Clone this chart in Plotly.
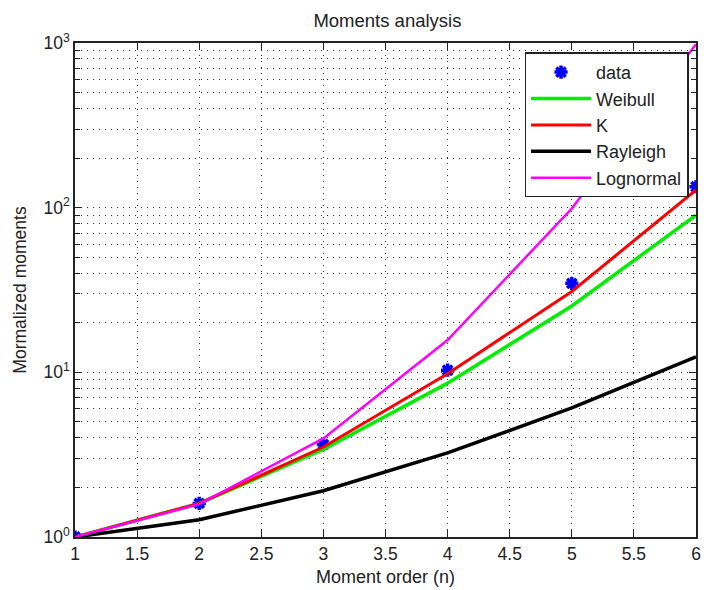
import plotly.graph_objects as go

# Moment orders
orders = [1, 2, 3, 4, 5, 6]

# Normalized moments: measured data and fitted models
data_moments = [1.0, 1.60, 3.65, 10.3, 34.7, 134.0]
weibull = [1.0, 1.60, 3.40, 8.6, 25.3, 90.0]
k_dist = [1.0, 1.60, 3.52, 9.8, 31.0, 128.0]
rayleigh = [1.0, 1.273, 1.91, 3.24, 6.08, 12.4]
lognormal = [1.0, 1.583, 3.97, 15.7, 98.8, 982.0]

x_ticks = [1, 1.5, 2, 2.5, 3, 3.5, 4, 4.5, 5, 5.5, 6]
y_ticks = [1, 10, 100, 1000]
y_tick_text = ["10<sup>0</sup>", "10<sup>1</sup>", "10<sup>2</sup>", "10<sup>3</sup>"]
y_minor = [m * 10 ** d for d in range(3) for m in range(2, 10)]

FONT = "Liberation Sans, Arial, sans-serif"
GRID_DASH = "1px,5px"

fig = go.Figure()
fig.add_trace(go.Scatter(
    x=orders, y=data_moments, mode="markers", name="data",
    marker=dict(symbol="asterisk-open", size=11, color="#0000ff",
                line=dict(color="#0000ff", width=3.5)),
))
fig.add_trace(go.Scatter(x=orders, y=weibull, mode="lines", name="Weibull",
                         line=dict(color="#00ee00", width=3.5)))
fig.add_trace(go.Scatter(x=orders, y=k_dist, mode="lines", name="K",
                         line=dict(color="#ff0000", width=3)))
fig.add_trace(go.Scatter(x=orders, y=rayleigh, mode="lines", name="Rayleigh",
                         line=dict(color="#000000", width=3.5)))
fig.add_trace(go.Scatter(x=orders, y=lognormal, mode="lines", name="Lognormal",
                         line=dict(color="#ff00ff", width=2.5)))

fig.update_layout(
    width=707, height=590,
    margin=dict(l=75, r=6, t=43, b=53),
    paper_bgcolor="white", plot_bgcolor="white",
    font=dict(family=FONT, size=17, color="#222"),
    title=dict(text="Moments analysis", x=0.548, xanchor="center",
               y=1 - 21 / 590, yanchor="middle", font=dict(size=18.5)),
    showlegend=True,
    legend=dict(
        x=0.988, y=0.981, xanchor="right", yanchor="top",
        bgcolor="white", bordercolor="#222", borderwidth=1.5,
        font=dict(size=18), itemwidth=60, tracegroupgap=2,
    ),
)

fig.update_xaxes(
    range=[1, 6], tickvals=x_ticks, ticktext=[f"{v:g}" for v in x_ticks],
    showline=True, linecolor="#222", linewidth=1.5, mirror="allticks",
    ticks="inside", ticklen=7, tickcolor="#222",
    showgrid=True, gridcolor="#333", gridwidth=1, griddash=GRID_DASH,
    zeroline=False, tickfont=dict(size=17.5),
    title=dict(text="Moment order (n)", standoff=8, font=dict(size=18)),
)
fig.update_yaxes(
    type="log", range=[0, 3], tickvals=y_ticks, ticktext=y_tick_text,
    showline=True, linecolor="#222", linewidth=1.5, mirror="allticks",
    ticks="inside", ticklen=7, tickcolor="#222",
    showgrid=True, gridcolor="#333", gridwidth=1, griddash=GRID_DASH,
    minor=dict(tickvals=y_minor, ticks="inside", ticklen=5, tickcolor="#222",
               showgrid=True, gridcolor="#333", gridwidth=1, griddash=GRID_DASH),
    zeroline=False, tickfont=dict(size=17.5),
    title=dict(text="Mormalized moments", standoff=12, font=dict(size=17.5)),
)

fig.write_html("out.html")
